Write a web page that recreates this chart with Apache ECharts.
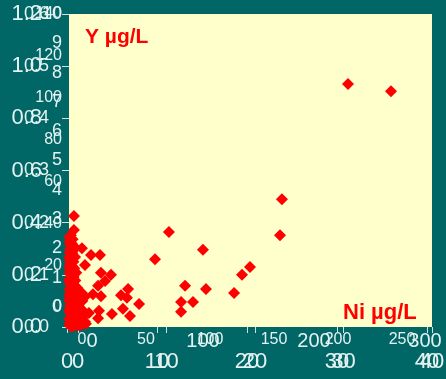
<!DOCTYPE html>
<html><head><meta charset="utf-8">
<script src="https://cdn.jsdelivr.net/npm/echarts@6/dist/echarts.min.js"></script>
<style>html,body{margin:0;padding:0;background:#006666;}#c{width:446px;height:379px;}</style>
</head><body><div id="c"></div>
<script>
// Ni (µg/L) and Y (µg/L) values
const nickel = [230.6,266.1,176.0,174.4,82.6,110.7,71.1,149.6,143.0,95.9,113.2,136.4,92.6,102.5,92.6,
  4.1,4.1,10.7,18.2,25.6,26.4,34.7,29.8,24.0,19.8,26.4,48.8,43.0,47.9,57.9,44.6,24.8,35.5,50.4,10.7,16.5,24.0,13.2,10.7,13.2,13.2,
  1.5,3.0,2.2,4.1,1.0,3.3,2.5,5.0,1.8,3.6,0.8,2.9,4.4,1.2,6.0,2.0,3.8,0.5,5.2,2.7,1.4,4.0,7.0,0.9,3.1,5.6,1.9,8.0,0.4,4.6,
  2.4,6.5,1.1,3.4,9.0,0.6,5.4,2.1,7.5,1.6,4.2,0.3,6.2,2.8,1.0,8.5,3.5,5.0,0.7,2.3,10.5,12.0,11.0,
  0.2,0.5,1.3,0.4,2.6,0.3,0.9,1.7,0.2,3.9,0.6,1.5,0.1,2.2,4.8,0.8,1.2,6.8,0.4,3.2,9.5,0.5,2.0,7.8,1.4,5.8,0.2,3.6,9.8,11.5,
  1.0,4.5,6.9,2.6,8.8,0.7,5.1,12.5,3.0,7.2,10.0,1.8,14.0];
const yttrium = [0.466,0.452,0.245,0.176,0.182,0.148,0.130,0.115,0.100,0.079,0.073,0.065,0.048,0.048,0.029,
  0.213,0.186,0.151,0.138,0.138,0.104,0.100,0.088,0.079,0.063,0.059,0.073,0.061,0.056,0.044,0.035,0.031,0.025,0.021,0.065,0.027,0.017,0.010,0.023,0.058,0.119,
  0.176,0.168,0.160,0.155,0.150,0.146,0.139,0.134,0.130,0.125,0.120,0.116,0.112,0.108,0.104,0.100,0.096,0.092,0.089,0.085,0.081,0.078,0.075,0.071,0.068,0.065,0.061,0.058,0.055,0.052,
  0.048,0.045,0.042,0.039,0.036,0.033,0.030,0.027,0.024,0.021,0.018,0.015,0.012,0.010,0.007,0.005,0.004,0.008,0.003,0.002,0.015,0.030,0.050,
  0.172,0.163,0.157,0.143,0.142,0.133,0.127,0.122,0.113,0.109,0.102,0.094,0.087,0.083,0.079,0.074,0.069,0.067,0.062,0.059,0.055,0.050,0.046,0.041,0.037,0.034,0.029,0.025,0.022,0.019,
  0.016,0.013,0.011,0.009,0.007,0.006,0.004,0.010,0.002,0.003,0.004,0.001,0.006];

// tick label sets of the overlapping axes: [min, max, step]
const yTicksBig = [0, 1.2, 0.2];
const yTicksMid = [0, 0.6, 0.1];
const yTicksSmall = [0, 140, 20];
const yTicksUnit = [0, 10, 1];
const xTicksSmall = [0, 250, 50];
const xTicksMid = [0, 300, 100];
const xTicksBig = [0, 40, 10];

const txt = '#E4F2F2';
const tickC = '#CFE3E3';
const grids = [], xAxes = [], yAxes = [];
function hidden(min, max, gi) { return {type:'value', gridIndex:gi, show:false, min:min, max:max}; }
function addGrid(g) { grids.push(Object.assign({containLabel:false, outerBoundsMode:'none'}, g)); return grids.length - 1; }

// data grid (plot area), y axis 0.0-0.6 shown
let gi = addGrid({left:69, top:14, width:363, height:313, show:true, backgroundColor:'#FFFFCC', borderWidth:0});
xAxes.push(hidden(0, 300, gi));
yAxes.push({type:'value', gridIndex:gi, min:yTicksMid[0], max:yTicksMid[1], interval:yTicksMid[2],
  splitLine:{show:false}, axisLine:{show:false},
  axisTick:{show:true, length:7, lineStyle:{color:tickC}},
  axisLabel:{color:txt, fontSize:18, margin:20, fontFamily:'Liberation Sans', formatter:v=>v.toFixed(1), showMinLabel:true, showMaxLabel:true}});

function yDeco(top, height, t, fs, margin, fmt) {
  const g = addGrid({left:69, top:top, width:363, height:height});
  xAxes.push(hidden(0, 1, g));
  yAxes.push({type:'value', gridIndex:g, min:t[0], max:t[1], interval:t[2], splitLine:{show:false},
    axisLine:{show:false}, axisTick:{show:false},
    axisLabel:{color:txt, fontSize:fs, margin:margin, fontFamily:'Liberation Sans', formatter:fmt, showMinLabel:true, showMaxLabel:true}});
}
yDeco(14, 313, yTicksBig, 22, 27, v=>v.toFixed(1));
yDeco(14, 293, yTicksSmall, 16, 7, v=>String(v));
yDeco(14, 293, yTicksUnit, 18, 7, v=>String(v));

function xDeco(left, width, t, fs, margin, ticks) {
  const g = addGrid({left:left, top:14, width:width, height:313});
  yAxes.push(hidden(0, 1, g));
  xAxes.push({type:'value', gridIndex:g, min:t[0], max:t[1], interval:t[2], splitLine:{show:false},
    axisLine:{show:false}, axisTick:{show:ticks, length:6, lineStyle:{color:tickC}},
    axisLabel:{color:txt, fontSize:fs, margin:margin, fontFamily:'Liberation Sans', showMinLabel:true, showMaxLabel:true}});
}
xDeco(82, 320, xTicksSmall, 16, 5, false);
xDeco(92, 333, xTicksMid, 20, 4, false);
xDeco(67, 360, xTicksBig, 22, 24, true);
xDeco(78, 354, xTicksBig, 22, 24, true);

const pts = nickel.map((x, i) => [x, yttrium[i]]);
const chart = echarts.init(document.getElementById('c'));
chart.setOption({
  backgroundColor:'#006666',
  animation:false,
  grid:grids, xAxis:xAxes, yAxis:yAxes,
  graphic:[
    {type:'text', left:85, top:27, style:{text:'Y µg/L', fill:'#FF0000', font:'bold 21px "Liberation Sans"'}},
    {type:'text', left:343, top:302, style:{text:'Ni µg/L', fill:'#FF0000', font:'bold 22px "Liberation Sans"'}}
  ],
  series:[{type:'scatter', xAxisIndex:0, yAxisIndex:0, data:pts, symbol:'diamond', symbolSize:12,
    itemStyle:{color:'#FF0000', opacity:1}}]
});
</script></body></html>
